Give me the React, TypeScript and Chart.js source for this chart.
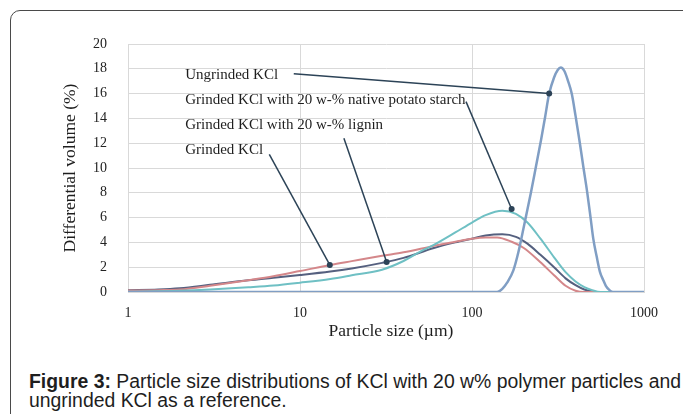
import { useEffect, useRef } from "react";
import { Chart, registerables } from "chart.js";

Chart.register(...registerables);

// Axis ticks
const xTickValues = [1, 10, 100, 1000];
const yMin = 0;
const yMax = 20;
const yStep = 2;

// Ungrinded KCl
const sizeUngrinded = [1, 100, 130, 140, 150, 160, 174, 186, 199, 220, 236, 252, 266, 281, 300, 315, 328, 345, 362, 380, 400, 421, 445, 468, 490, 507, 530, 555, 580, 600, 630, 661, 1000];
const volUngrinded = [0, 0, 0, 0, 0.25, 0.75, 1.75, 3.2, 5.1, 8.0, 10.2, 12.26, 14.1, 16.0, 17.3, 17.9, 18.1, 17.8, 17.0, 16.0, 14.2, 12.26, 10.0, 8.0, 5.9, 4.3, 2.9, 1.6, 0.95, 0.5, 0.15, 0, 0];

// Grinded KCl with 20 w-% native potato starch
const sizeStarch = [1, 2, 3, 5, 7, 10, 15, 20, 30, 40, 50, 60, 80, 100, 120, 150, 180, 210, 250, 300, 350, 400, 450, 500, 560, 1000];
const volStarch = [0.02, 0.1, 0.2, 0.38, 0.52, 0.75, 1.05, 1.35, 1.8, 2.5, 3.25, 3.8, 4.8, 5.6, 6.2, 6.55, 6.3, 5.6, 4.3, 2.8, 1.6, 0.85, 0.4, 0.15, 0, 0];

// Grinded KCl with 20 w-% lignin
const sizeLignin = [1, 1.5, 2, 3, 5, 7, 10, 15, 20, 30, 40, 60, 80, 100, 120, 150, 180, 210, 250, 300, 350, 400, 450, 500, 540, 1000];
const volLignin = [0.15, 0.2, 0.3, 0.58, 0.95, 1.15, 1.37, 1.65, 1.9, 2.35, 2.75, 3.55, 4.0, 4.3, 4.55, 4.65, 4.45, 3.9, 3.0, 2.0, 1.1, 0.55, 0.2, 0.05, 0, 0];

// Grinded KCl
const sizeGrinded = [1, 1.5, 2, 3, 5, 7, 10, 15, 20, 30, 40, 60, 80, 100, 120, 140, 170, 200, 250, 300, 350, 400, 450, 1000];
const volGrinded = [0.12, 0.15, 0.2, 0.5, 0.95, 1.27, 1.69, 2.18, 2.49, 2.92, 3.2, 3.72, 4.05, 4.3, 4.4, 4.4, 4.05, 3.55, 2.4, 1.35, 0.5, 0.1, 0, 0];

// Call-out labels, anchored in data units (x: µm, y: %)
const calloutTexts = [
  "Ungrinded KCl",
  "Grinded KCl with 20 w-% native potato starch",
  "Grinded KCl with 20 w-% lignin",
  "Grinded KCl",
];
const calloutTextX = 2.15;
const calloutTextY = [17.5, 15.5, 13.45, 11.45];
const calloutFrom = [[9.2, 17.6], [92.3, 15.35], [18.0, 12.4], [6.63, 11.1]];
const calloutTo = [[281, 16.0], [170, 6.7], [31.9, 2.42], [14.9, 2.18]];

const xTitle = "Particle size (\u00b5m)";
const yTitle = "Differential volume (%)";

const SERIF = '"Liberation Serif", "Times New Roman", serif';

const pairs = (xs: number[], ys: number[]) => xs.map((x, i) => ({ x, y: ys[i] }));

const calloutPlugin = {
  id: "callouts",
  afterDatasetsDraw(chart: any) {
    const { ctx, chartArea } = chart;
    const sx = chart.scales.x;
    const sy = chart.scales.y;
    ctx.save();
    ctx.strokeStyle = "#2c4357";
    ctx.fillStyle = "#2c4357";
    ctx.lineWidth = 1.5;
    calloutFrom.forEach((from, i) => {
      const to = calloutTo[i];
      const x0 = sx.getPixelForValue(from[0]);
      const y0 = sy.getPixelForValue(from[1]);
      const x1 = sx.getPixelForValue(to[0]);
      const y1 = sy.getPixelForValue(to[1]);
      ctx.beginPath();
      ctx.moveTo(x0, y0);
      ctx.lineTo(x1, y1);
      ctx.stroke();
      ctx.beginPath();
      ctx.arc(x1, y1, 3, 0, Math.PI * 2);
      ctx.fill();
    });
    ctx.fillStyle = "#1e1e1e";
    ctx.font = `15px ${SERIF}`;
    ctx.textAlign = "left";
    ctx.textBaseline = "middle";
    calloutTexts.forEach((t, i) => {
      ctx.fillText(t, sx.getPixelForValue(calloutTextX), sy.getPixelForValue(calloutTextY[i]));
    });

    // axis titles
    ctx.font = `17.5px ${SERIF}`;
    ctx.textAlign = "center";
    ctx.fillText(xTitle, (chartArea.left + chartArea.right) / 2 + 5, chartArea.bottom + 39);
    ctx.translate(chartArea.left - 58, (chartArea.top + chartArea.bottom) / 2);
    ctx.rotate(-Math.PI / 2);
    ctx.fillText(yTitle, 0, 0);
    ctx.restore();
  },
};

export default function App() {
  const canvasRef = useRef<HTMLCanvasElement | null>(null);

  useEffect(() => {
    document.body.style.margin = "0";
    const canvas = canvasRef.current;
    if (!canvas) return;
    const line = (label: string, data: any[], color: string, width: number) => ({
      label,
      data,
      borderColor: color,
      backgroundColor: color,
      borderWidth: width,
      pointRadius: 0,
      fill: false,
      cubicInterpolationMode: "monotone" as const,
    });
    const chart = new Chart(canvas, {
      type: "line",
      data: {
        datasets: [
          line("Ungrinded KCl", pairs(sizeUngrinded, volUngrinded), "#809ec4", 2.5),
          line("Grinded KCl with 20 w-% native potato starch", pairs(sizeStarch, volStarch), "#6fc0c4", 2),
          line("Grinded KCl", pairs(sizeGrinded, volGrinded), "#d4878a", 2),
          line("Grinded KCl with 20 w-% lignin", pairs(sizeLignin, volLignin), "#55607f", 2),
        ],
      },
      options: {
        animation: false,
        responsive: false,
        events: [],
        layout: { padding: { left: 0, top: 44, right: 39, bottom: 0 } },
        plugins: { legend: { display: false }, tooltip: { enabled: false } },
        scales: {
          x: {
            type: "logarithmic",
            min: xTickValues[0],
            max: xTickValues[xTickValues.length - 1],
            afterBuildTicks: (scale: any) => {
              scale.ticks = xTickValues.map((v) => ({ value: v }));
            },
            afterFit: (scale: any) => {
              scale.height = 58;
              scale.paddingLeft = 0;
              scale.paddingRight = 0;
            },
            grid: { color: "#d9d9d9", lineWidth: 1, drawTicks: false },
            border: { color: "#d9d9d9" },
            ticks: {
              padding: 13,
              maxRotation: 0,
              autoSkip: false,
              color: "#222",
              font: { family: SERIF, size: 14 },
              callback: (v: any) => String(v),
            },
          },
          y: {
            min: yMin,
            max: yMax,
            afterFit: (scale: any) => {
              scale.width = 128;
              scale.paddingTop = 0;
              scale.paddingBottom = 0;
            },
            grid: { color: "#d9d9d9", lineWidth: 1, drawTicks: false },
            border: { color: "#d9d9d9" },
            ticks: {
              stepSize: yStep,
              padding: 21,
              color: "#222",
              font: { family: SERIF, size: 14 },
            },
          },
        },
      },
      plugins: [calloutPlugin],
    });
    return () => chart.destroy();
  }, []);

  return (
    <div style={{ position: "relative", width: 683, height: 414, overflow: "hidden", background: "#fff" }}>
      <div
        style={{
          position: "absolute",
          left: 10,
          top: 10,
          width: 720,
          height: 440,
          border: "1px solid #4a4a4a",
          borderRadius: 10,
          boxSizing: "border-box",
        }}
      />
      <canvas
        ref={canvasRef}
        width={683}
        height={350}
        style={{ position: "absolute", left: 0, top: 0, width: 683, height: 350, display: "block" }}
      />
      <div
        style={{
          position: "absolute",
          left: 29,
          top: 372,
          whiteSpace: "nowrap",
          fontFamily: '"Liberation Sans", Arial, sans-serif',
          fontSize: 19.4,
          lineHeight: "19px",
          color: "#1e1e1e",
        }}
      >
        <b>Figure 3:</b> Particle size distributions of KCl with 20 w% polymer particles and
        <br />
        ungrinded KCl as a reference.
      </div>
    </div>
  );
}
